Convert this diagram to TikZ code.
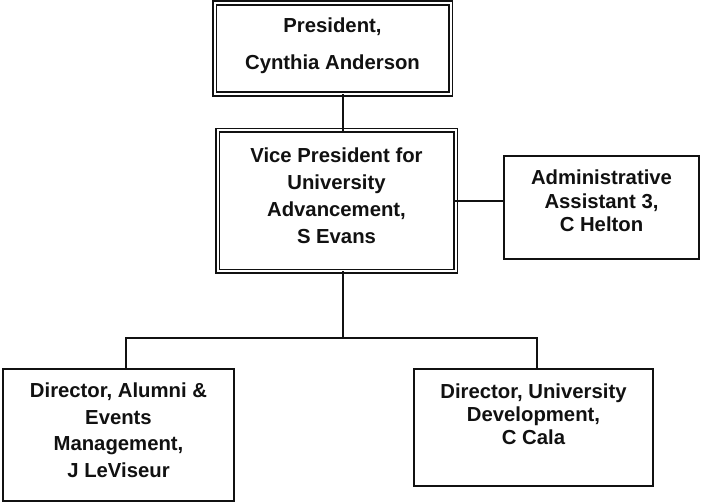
\documentclass[tikz,border=0pt]{standalone}
\usepackage{fontspec}
\setmainfont{Liberation Sans}
\usetikzlibrary{positioning}
\definecolor{ocink}{HTML}{111111}
\tikzset{
  oc unit/.style={draw=ocink, line width=2pt, fill=white, inner sep=0pt},
  oc lead/.style={draw=ocink, line width=1.6pt, double=white, double distance=2pt,
    fill=white, inner sep=0pt},
  oc label/.style={font=\fontsize{20.3}{#1}\selectfont\bfseries, text=ocink,
    align=center, inner sep=0pt},
  oc label/.default=26,
  oc link/.style={draw=ocink, line width=2pt, line cap=rect}
}

\begin{document}
\begin{tikzpicture}[x=1pt, y=-1pt]
  \useasboundingbox (0,0) rectangle (701,502);
  % boxes
  \node[oc lead, minimum width=236pt, minimum height=91pt] (pres) at (332.5,48.5) {};
  \node[oc lead, minimum width=238pt, minimum height=141pt] (vp) at (336.5,201) {};
  \node[oc unit, minimum width=195pt, minimum height=103pt] (admin) at (601.5,207.5) {};
  \node[oc unit, minimum width=231pt, minimum height=132pt] (alumni) at (118.5,434.5) {};
  \node[oc unit, minimum width=239pt, minimum height=117pt] (devel) at (533.5,427.5) {};
  % texts
  \node[oc label=37, below=15pt of pres.north] (pres-t) {President,\\Cynthia Anderson};
  \node[oc label=27, below=18pt of vp.north] (vp-t) {Vice President for\\University\\Advancement,\\S Evans};
  \node[oc label=23.5, below=15pt of admin.north] (admin-t) {Administrative\\Assistant 3,\\C Helton};
  \node[oc label=26.7, below=15pt of alumni.north] (alumni-t) {Director, Alumni \&\\Events\\Management,\\J LeViseur};
  \node[oc label=23, below=16pt of devel.north] (devel-t) {Director, University\\Development,\\C Cala};
  % lines
  \coordinate (bus) at (343,338);
  \draw[oc link] (pres.south -| bus) -- (vp.north -| bus);
  \draw[oc link] (vp.east) -- (vp.east -| admin.west);
  \draw[oc link] (vp.south -| bus) -- (bus);
  \draw[oc link] ([xshift=7.5pt]alumni.north) |- (bus) -| ([xshift=3.5pt]devel.north);
\end{tikzpicture}
\end{document}
